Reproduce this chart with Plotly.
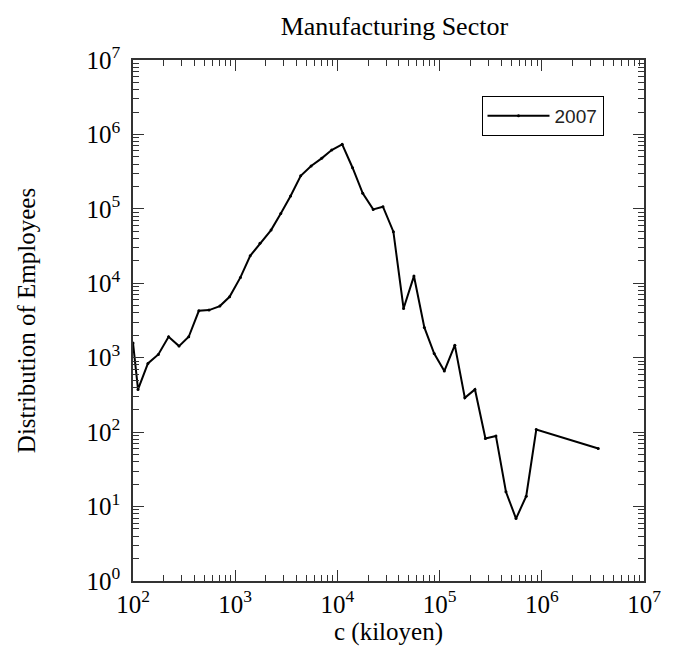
import plotly.graph_objects as go

# Company size c (kiloyen) and the distribution of employees, 2007
c_kiloyen = [100, 112, 140, 177, 223, 282, 351, 441, 555, 708, 881,
             1125, 1402, 1747, 2244, 2793, 3483, 4375, 5533, 7010, 8790,
             11140, 14070, 17700, 22400, 27900, 35300, 44400, 56100, 70900, 88500,
             111200, 140900, 176600, 221800, 280800, 355600, 445800, 559500, 704000, 883000,
             3570000]
employees = [1580, 375, 838, 1107, 1910, 1432, 1910, 4266, 4365, 4940, 6590,
             12000, 23400, 34400, 51900, 86900, 148600, 278500, 376000, 477000, 617000,
             736000, 357000, 161500, 98400, 106900, 49300, 4590, 12500, 2550, 1140,
             661, 1476, 289, 375, 82, 89, 15.8, 6.9, 13.8, 108.6,
             60.4]

x_decades = [2, 3, 4, 5, 6, 7]
y_decades = [0, 1, 2, 3, 4, 5, 6, 7]

serif = "Liberation Serif"
sans = "Liberation Sans"
frame = "#333333"


def minor_vals(decades):
    vals = []
    for d in decades[:-1]:
        for m in range(2, 10):
            vals.append(m * 10 ** d)
    return vals


fig = go.Figure()
fig.add_trace(go.Scatter(
    x=c_kiloyen, y=employees, mode="lines+markers", name="2007",
    line=dict(color="black", width=2),
    marker=dict(color="black", size=3),
))

axis_common = dict(
    type="log",
    showgrid=False, zeroline=False,
    showline=True, linecolor=frame, linewidth=1.5, mirror="allticks",
    ticks="inside", ticklen=11, tickwidth=1.3, tickcolor=frame,
    tickfont=dict(family=serif, size=25, color="black"),
)

fig.update_xaxes(
    **axis_common,
    range=[2, 7],
    tickvals=[10 ** d for d in x_decades],
    ticktext=[f"10<sup>{d}</sup>" for d in x_decades],
    minor=dict(ticks="inside", ticklen=6, tickwidth=1.2, tickcolor=frame,
               tickvals=minor_vals(x_decades), showgrid=False),
    title=dict(text="c (kiloyen)", font=dict(family=serif, size=25, color="black"),
               standoff=1),
    ticklabelstandoff=0,
)
fig.update_yaxes(
    **axis_common,
    range=[0, 7],
    tickvals=[10 ** d for d in y_decades],
    ticktext=[f"10<sup>{d}</sup>" for d in y_decades],
    minor=dict(ticks="inside", ticklen=6, tickwidth=1.2, tickcolor=frame,
               tickvals=minor_vals(y_decades), showgrid=False),
    title=dict(text="Distribution of Employees",
               font=dict(family=serif, size=25, color="black"), standoff=44),
    ticklabelstandoff=6,
)

fig.update_layout(
    width=673, height=654,
    margin=dict(l=133, r=18, t=60, b=73),
    paper_bgcolor="white", plot_bgcolor="white",
    title=dict(text="Manufacturing Sector", x=0.586, xanchor="center",
               y=0.96, yanchor="middle",
               font=dict(family=serif, size=26, color="black")),
    showlegend=True,
    legend=dict(x=0.682, y=0.931, xanchor="left", yanchor="top",
                bordercolor="black", borderwidth=1, bgcolor="white",
                font=dict(family=sans, size=19, color="#222"),
                itemwidth=62),
)

fig.write_html("out.html")
